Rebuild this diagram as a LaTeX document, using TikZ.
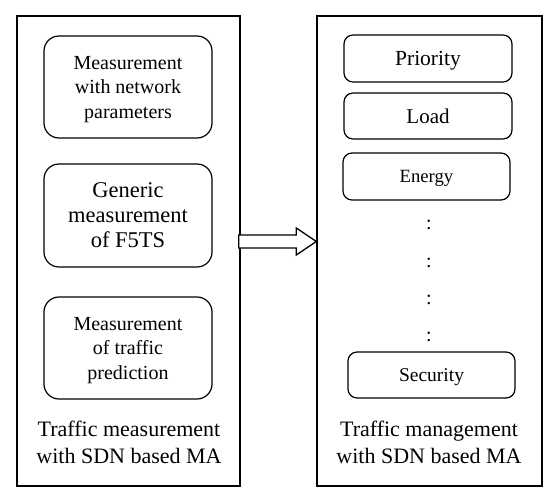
\documentclass[tikz,border=0pt]{standalone}
\usepackage{fontspec}
\setmainfont{Liberation Serif}
\usetikzlibrary{calc}
\begin{document}
\begin{tikzpicture}[x=1pt,y=-1pt,
  outerbox/.style={draw, line width=1.4pt, minimum width=223pt, minimum height=470pt, inner sep=0pt},
  lbox/.style={draw, line width=1.2pt, rounded corners=15pt, minimum width=168pt, minimum height=102pt, align=center, inner sep=0pt, text depth=0pt},
  rbox/.style={draw, line width=1.2pt, rounded corners=9pt, minimum width=168pt, minimum height=47pt, align=center, inner sep=0pt, text depth=0pt},
  small/.style={font=\fontsize{20}{24.5}\selectfont},
  big/.style={font=\fontsize{22.5}{25}\selectfont},
  lab/.style={align=center, font=\fontsize{22}{27}\selectfont},
  dots/.style={font=\fontsize{20}{20}\selectfont, inner sep=0pt}]
\useasboundingbox (0,0) rectangle (550,500);
\node[outerbox] (L) at (128.5,251) {};
\node[outerbox, minimum width=225pt] (R) at (429.5,251) {};

\node[lbox, small] (m1) at (128,87) {Measurement\\with network\\parameters};
\node[lbox, big, minimum height=103pt] (m2) at (128,215.5) {Generic\\measurement\\of F5TS};
\node[lbox, small] (m3) at (128,348) {Measurement\\of traffic\\prediction};
\node[lab] (ll) at (129,442.5) {Traffic measurement\\with SDN based MA};

\node[rbox, font=\fontsize{21.5}{24}\selectfont] (p) at (428,58.5) {Priority};
\node[rbox, font=\fontsize{21}{24}\selectfont, minimum height=46pt] (ld) at (428,116) {Load};
\node[rbox, font=\fontsize{18.7}{22}\selectfont, minimum width=167pt] (e) at (426.5,176.5) {Energy};
\node[dots] (d1) at (429,225) {:};
\node[dots] (d2) at (429,263) {:};
\node[dots] (d3) at (429,300) {:};
\node[dots] (d4) at (429,337) {:};
\node[rbox, font=\fontsize{19.5}{22}\selectfont, minimum width=167pt, minimum height=46pt] (s) at (431.5,375) {Security};
\node[lab] (rl) at (429,442.5) {Traffic management\\with SDN based MA};

\coordinate (a0) at (L.east |- 0,241.5);
\coordinate (a1) at (R.west |- 0,241.5);
\draw[line width=1.3pt, line join=miter, fill=white]
  ($(a0)+(-2,-6.5)$) -- ($(a1)+(-20,-6.5)$) -- ($(a1)+(-20,-13.5)$) -- (a1)
  -- ($(a1)+(-20,13.5)$) -- ($(a1)+(-20,6.5)$) -- ($(a0)+(-2,6.5)$) -- cycle;
\end{tikzpicture}
\end{document}
